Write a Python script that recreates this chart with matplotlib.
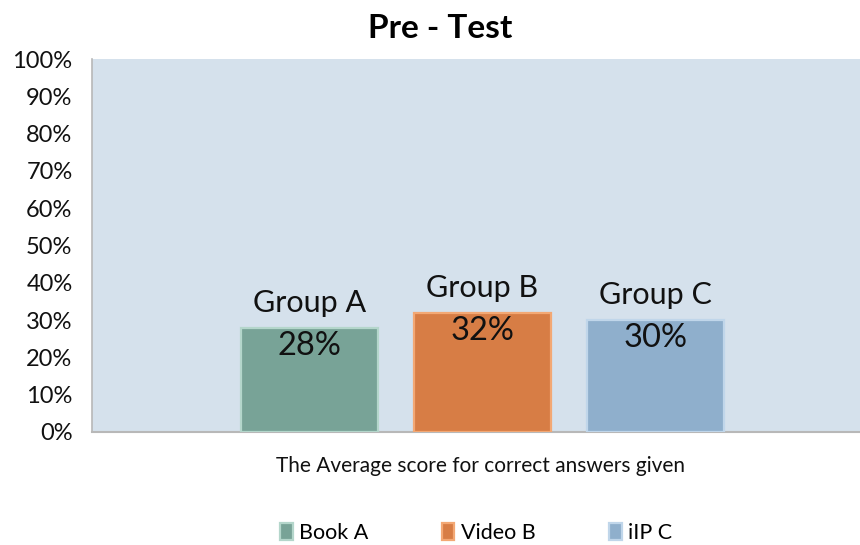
import matplotlib
matplotlib.use("Agg")
import matplotlib.pyplot as plt
from matplotlib.ticker import PercentFormatter

# Chart data
series_names = ["Book A", "Video B", "iIP C"]
group_labels = ["Group A", "Group B", "Group C"]
scores = [28, 32, 30]
positions = [-1, 0, 1]
y_ticks = [0, 10, 20, 30, 40, 50, 60, 70, 80, 90, 100]

fill_colors = ["#78A397", "#D77D45", "#8FAFCC"]
edge_colors = ["#B4D6CB", "#F3A874", "#C0D6EA"]

plt.rcParams["font.family"] = ["Lato", "DejaVu Sans"]

fig = plt.figure(figsize=(8.6, 5.45), dpi=100)
ax = fig.add_axes([92 / 860, 1 - 432 / 545, 1 - 92 / 860, (432 - 59) / 545])
ax.set_facecolor("#D5E1EC")

for x, v, name, fc, ec, grp in zip(positions, scores, series_names,
                                   fill_colors, edge_colors, group_labels):
    ax.bar(x, v, width=0.79, color=fc, edgecolor=ec, linewidth=1.6, label=name,
           zorder=3)
    ax.annotate(grp, (x, v), xytext=(0, 18), textcoords="offset points",
                ha="center", va="center", fontsize=22, color="#111111")
    ax.annotate(f"{v}%", (x, v), xytext=(0, -13), textcoords="offset points",
                ha="center", va="center", fontsize=23.5, color="#111111")

ax.set_xlim(-2.257, 2.182)
ax.set_ylim(0, 100)
ax.set_yticks(y_ticks)
ax.yaxis.set_major_formatter(PercentFormatter(decimals=0))
ax.tick_params(axis="y", length=0, labelsize=17, pad=14, colors="#111111")
ax.set_xticks([])

for side in ("top", "right"):
    ax.spines[side].set_visible(False)
ax.spines["left"].set_color("#B8B8B8")
ax.spines["bottom"].set_color("#B8B8B8")
ax.spines["left"].set_linewidth(1.2)
ax.spines["bottom"].set_linewidth(1.5)

fig.text(480 / 860, 1 - 466 / 545, "The Average score for correct answers given",
         ha="center", va="center", fontsize=15, color="#111111")
fig.text(440 / 860, 1 - 28 / 545, "Pre - Test", ha="center", va="center",
         fontsize=24, fontweight="bold", color="#000000")

leg = fig.legend(loc="center", bbox_to_anchor=(476 / 860, 1 - 533 / 545), ncol=3,
                 frameon=False, fontsize=15.5, handlelength=0.6, handleheight=0.8,
                 handletextpad=0.3, columnspacing=3.4)

fig.savefig("out.png", dpi=100, facecolor="white")
